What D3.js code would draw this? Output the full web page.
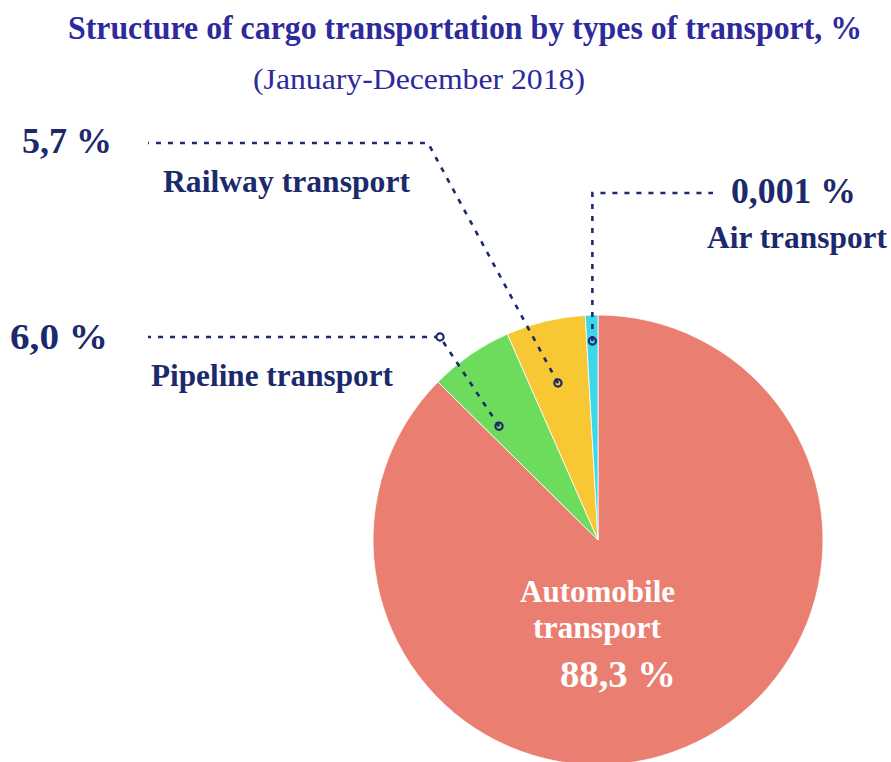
<!DOCTYPE html>
<html>
<head>
<meta charset="utf-8">
<script src="https://cdn.jsdelivr.net/npm/d3@7"></script>
<style>
  body { margin:0; background:#fff; }
  text { font-family: "Liberation Serif", "Times New Roman", serif; }
</style>
</head>
<body>
<div id="chart-pie"></div>
<script>
// slices, clockwise from 12 o'clock
var categories = ["Automobile transport", "Pipeline transport", "Railway transport", "Air transport"];
var shares = [87.4, 6.0, 5.7, 0.9];          // slice sizes as drawn
var valueLabels = ["88,3 %", "6,0 %", "5,7 %", "0,001 %"];
var colors = ["#e97e71", "#6ddc5c", "#f7c833", "#3ed7e6"];

var width = 891, height = 762;
var navy = "#1b2a6c";

var svg = d3.select("#chart-pie").append("svg")
	.attr("width", width)
	.attr("height", height);

// title is tall and narrow: smaller font stretched vertically
svg.append("g")
	.attr("transform", "translate(0,39) scale(1,1.13)")
	.append("text")
	.attr("x", 68).attr("y", 0)
	.attr("textLength", 794).attr("lengthAdjust", "spacingAndGlyphs")
	.attr("font-size", 30).attr("font-weight", "bold")
	.attr("fill", "#2e2a9c")
	.text("Structure of cargo transportation by types of transport, %");

svg.append("text")
	.attr("x", 253).attr("y", 89)
	.attr("textLength", 332).attr("lengthAdjust", "spacingAndGlyphs")
	.attr("font-size", 30)
	.attr("fill", "#2e2a9c")
	.text("(January-December 2018)");

var cx = 598, cy = 540, radius = 225;

var data = categories.map((c, i) => ({name: c, share: shares[i], label: valueLabels[i], color: colors[i]}));

var pie = d3.pie().sort(null).value(d => d.share);
var arcs = pie(data);
var arc = d3.arc().innerRadius(0).outerRadius(radius);

var g = svg.append("g").attr("transform", "translate(" + cx + "," + cy + ")");

g.selectAll("path").data(arcs)
	.enter().append("path")
	.attr("d", arc)
	.attr("fill", d => d.data.color)
	.attr("stroke", "#fff")
	.attr("stroke-width", 0.8);

// point inside a slice: t = fraction along the slice, r = fraction of radius
function anchor(a, t, r) {
	var ang = a.startAngle + (a.endAngle - a.startAngle) * t;
	return [cx + Math.sin(ang) * radius * r, cy - Math.cos(ang) * radius * r];
}

var leaders = [
	{i: 1, t: 0.2, r: 0.67, path: [[440, 337], [148, 337]], elbowDot: true},
	{i: 2, t: 0.46, r: 0.72, path: [[428, 143], [148, 143]], elbowDot: false},
	{i: 3, t: 0.5, r: 0.885, path: [[593, 193], [713, 193]], elbowDot: false}
];

var line = d3.line();
leaders.forEach(l => {
	var p0 = anchor(arcs[l.i], l.t, l.r);
	if (l.i == 3) l.path[0][0] = p0[0];
	var pts = [p0].concat(l.path);
	svg.append("path")
		.attr("d", line(pts))
		.attr("fill", "none")
		.attr("stroke", navy)
		.attr("stroke-width", 2.6)
		.attr("stroke-dasharray", "5,7");
	svg.append("circle")
		.attr("cx", p0[0]).attr("cy", p0[1]).attr("r", 3.6)
		.attr("fill", "none").attr("stroke", navy).attr("stroke-width", 2.2);
	if (l.elbowDot) {
		svg.append("circle")
			.attr("cx", l.path[0][0]).attr("cy", l.path[0][1]).attr("r", 3.6)
			.attr("fill", "#fff").attr("stroke", navy).attr("stroke-width", 2.2);
	}
});

// outside labels: value and name
var outLabels = [
	{i: 2, vx: 22, vy: 153, vw: 90, nx: 163, ny: 192, nw: 247},
	{i: 3, vx: 731, vy: 203, vw: 125, nx: 707, ny: 248, nw: 180},
	{i: 1, vx: 10, vy: 349, vw: 98, nx: 151, ny: 386, nw: 242}
];
outLabels.forEach(o => {
	svg.append("text")
		.attr("x", o.vx).attr("y", o.vy)
		.attr("textLength", o.vw).attr("lengthAdjust", "spacingAndGlyphs")
		.attr("font-size", 36).attr("font-weight", "bold").attr("fill", navy)
		.text(data[o.i].label);
	svg.append("text")
		.attr("x", o.nx).attr("y", o.ny)
		.attr("textLength", o.nw).attr("lengthAdjust", "spacingAndGlyphs")
		.attr("font-size", 31).attr("font-weight", "bold").attr("fill", navy)
		.text(data[o.i].name);
});

// automobile label inside the slice
var inner = svg.append("g").attr("fill", "#fff").attr("font-weight", "bold");
inner.append("text")
	.attr("x", 520).attr("y", 602)
	.attr("textLength", 155).attr("lengthAdjust", "spacingAndGlyphs")
	.attr("font-size", 31)
	.text(data[0].name.split(" ")[0]);
inner.append("text")
	.attr("x", 533).attr("y", 638)
	.attr("textLength", 128).attr("lengthAdjust", "spacingAndGlyphs")
	.attr("font-size", 31)
	.text(data[0].name.split(" ")[1]);
inner.append("text")
	.attr("x", 560).attr("y", 687)
	.attr("textLength", 116).attr("lengthAdjust", "spacingAndGlyphs")
	.attr("font-size", 38)
	.text(data[0].label);
</script>
</body>
</html>
